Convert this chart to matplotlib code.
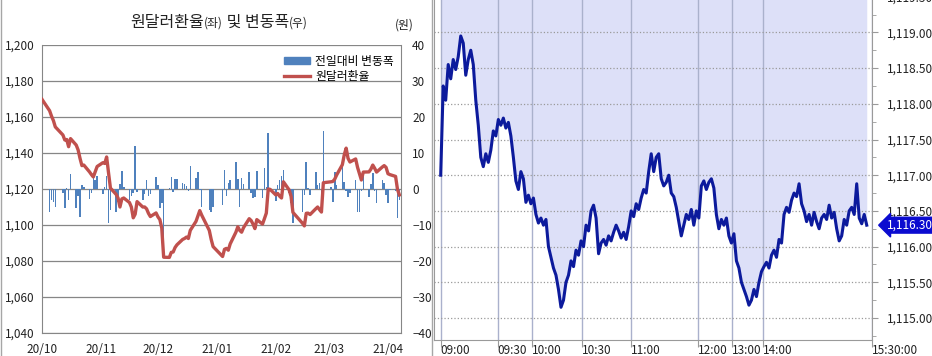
import numpy as np
import pandas as pd
import matplotlib
matplotlib.use("Agg")
import matplotlib.pyplot as plt
import matplotlib.dates as mdates
import matplotlib.transforms as mtransforms
from matplotlib.ticker import FuncFormatter, MultipleLocator
from matplotlib.patches import Patch
from matplotlib.lines import Line2D

plt.rcParams["font.family"] = ["Noto Sans CJK KR", "DejaVu Sans"]

# ---- left chart data: daily KRW/USD close and change from previous day ----
holidays = ["2020-10-02", "2020-10-09", "2020-12-25", "2020-12-31",
            "2021-01-01", "2021-02-11", "2021-02-12", "2021-03-01"]
dates = pd.bdate_range("2020-10-01", "2021-04-07").drop(pd.to_datetime(holidays))

rate_oct = [1169.8, 1163.5, 1160.5, 1158.0, 1154.5, 1150.0, 1147.2, 1147.5, 1143.5, 1148.0,
            1144.4, 1141.7, 1137.0, 1133.0, 1133.3, 1129.5, 1128.0, 1126.7, 1129.6, 1132.5]
rate_nov = [1134.6, 1134.2, 1137.8, 1129.0, 1120.5, 1117.0, 1115.0, 1110.0, 1114.5, 1115.0,
            1112.5, 1110.0, 1104.0, 1106.0, 1113.0, 1110.0, 1110.0, 1109.0, 1106.5, 1104.7, 1106.7]
rate_dec = [1104.5, 1103.0, 1098.3, 1082.1, 1082.0, 1084.8, 1085.0, 1087.5, 1089.0, 1092.0,
            1092.5, 1093.3, 1092.5, 1097.0, 1102.0, 1105.0, 1108.0, 1105.5, 1097.0, 1092.0, 1088.0]
rate_jan = [1082.5, 1086.5, 1087.0, 1086.0, 1089.5, 1096.0, 1099.0, 1097.0, 1096.0, 1098.5,
            1103.5, 1102.5, 1100.5, 1098.0, 1103.0, 1100.5, 1103.5, 1106.6, 1120.0, 1119.8]
rate_feb = [1116.7, 1117.5, 1116.0, 1115.0, 1124.0, 1119.5, 1116.0, 1107.0, 1101.0, 1099.5,
            1106.5, 1106.6, 1105.8, 1109.0, 1110.0, 1108.5, 1107.2, 1123.5]
rate_mar = [1124.0, 1124.2, 1125.5, 1127.8, 1133.5, 1139.0, 1142.7, 1137.0, 1135.0, 1136.7,
            1132.0, 1128.5, 1125.0, 1129.4, 1129.5, 1131.0, 1133.3, 1131.5, 1129.4, 1132.2,
            1133.0, 1132.0]
rate_apr = [1128.5, 1128.0, 1127.0, 1119.8, 1116.7]

chg_oct = [0.0, -6.3, -3.0, -3.5, -4.9, -1.0, -5.4, 0.3, -3.0, 4.2,
           -5.4, -2.0, -7.7, 1.1, 0.5, -2.7, -1.0, 4.4, 2.5, 3.6]
chg_nov = [-1.4, 0.5, 3.6, -9.5, -5.8, -6.3, -3.5, 1.4, 5.0, 0.5,
           -3.0, -2.0, -1.0, 12.0, -0.8, -3.0, -1.5, 2.5, -2.0, -1.5, 3.2]
chg_dec = [1.0, -5.4, -4.0, -13.5, 0.3, 3.4, -0.8, 2.8, 2.8, 1.6,
           1.5, 0.8, -0.5, 6.4, 3.0, 4.8, -0.4, -4.9, -5.8, -6.3, -4.9]
chg_jan = [-4.4, 5.3, -2.0, 1.8, 2.5, 7.5, 2.7, -4.9, 3.0, 1.3,
           4.8, -1.2, -2.6, -2.2, 5.0, -2.6, 5.7, 0.5, 15.5, 0.3]
chg_feb = [-3.3, 1.1, 2.5, 3.7, 5.3, -1.2, -4.0, -9.5, -6.3, -1.7,
           7.6, 0.2, -1.7, 4.8, 1.0, 1.8, -1.3, 16.0]
chg_mar = [0.5, -3.5, 4.8, 1.1, 6.2, 2.0, -0.5, -2.1, -1.0, 2.5,
           -6.3, -6.3, -0.5, 4.4, -2.1, 1.4, 4.4, -0.5, -4.0, 2.5, 1.6, -1.7]
chg_apr = [-4.0, -0.3, -0.5, -8.1, -3.0]

rate = rate_oct + rate_nov + rate_dec + rate_jan + rate_feb + rate_mar + rate_apr
change = chg_oct + chg_nov + chg_dec + chg_jan + chg_feb + chg_mar + chg_apr

month_ticks = pd.date_range("2020-10-01", "2021-04-01", freq="MS")

# ---- right chart data: intraday ticks (09:00 ~ 15:30) ----
intraday = [
    1117.00, 1118.25, 1118.05, 1118.55, 1118.35, 1118.62, 1118.48, 1118.66, 1118.95, 1118.85,
    1118.40, 1118.62, 1118.75, 1118.55, 1118.05, 1117.70, 1117.25, 1117.12, 1117.30, 1117.18,
    1117.35, 1117.62, 1117.55, 1117.78, 1117.70, 1117.80, 1117.66, 1117.74, 1117.55, 1117.25,
    1116.92, 1116.80, 1117.05, 1116.95, 1116.62, 1116.72, 1116.60, 1116.68, 1116.45, 1116.33,
    1116.40, 1116.30, 1116.38, 1116.00, 1115.85, 1115.70, 1115.60, 1115.40, 1115.15, 1115.25,
    1115.50, 1115.60, 1115.80, 1115.72, 1115.95, 1115.88, 1116.08, 1116.00, 1116.30, 1116.22,
    1116.50, 1116.58, 1116.40, 1115.90, 1116.05, 1116.10, 1116.02, 1116.15, 1116.08, 1116.20,
    1116.30, 1116.22, 1116.12, 1116.20, 1116.10, 1116.28, 1116.50, 1116.42, 1116.60, 1116.52,
    1116.68, 1116.80, 1116.75, 1117.05, 1117.30, 1117.05, 1117.25, 1117.30, 1116.95, 1116.85,
    1116.90, 1117.00, 1116.75, 1116.70, 1116.55, 1116.35, 1116.15, 1116.30, 1116.45, 1116.38,
    1116.52, 1116.30, 1116.50, 1116.40, 1116.85, 1116.92, 1116.80, 1116.90, 1116.95, 1116.82,
    1116.45, 1116.25, 1116.38, 1116.30, 1116.40, 1116.15, 1116.05, 1116.18, 1115.80, 1115.70,
    1115.50, 1115.40, 1115.30, 1115.18, 1115.25, 1115.40, 1115.30, 1115.50, 1115.65, 1115.72,
    1115.78, 1115.70, 1115.88, 1115.95, 1115.85, 1116.10, 1116.05, 1116.45, 1116.55, 1116.48,
    1116.65, 1116.75, 1116.70, 1116.88, 1116.60, 1116.50, 1116.35, 1116.45, 1116.30, 1116.48,
    1116.35, 1116.25, 1116.40, 1116.45, 1116.38, 1116.58, 1116.40, 1116.48, 1116.25, 1116.08,
    1116.15, 1116.38, 1116.30, 1116.50, 1116.55, 1116.45, 1116.88, 1116.40, 1116.32, 1116.45,
    1116.30,
]
time_labels = ["09:00", "09:30", "10:00", "10:30", "11:00", "12:00", "13:00", "14:00", "15:30:00"]
time_pos = [0, 22.7, 36.4, 56.3, 75.8, 102.7, 116.1, 128.6, 172.1]

W, H = 932, 356
fig = plt.figure(figsize=(W / 100, H / 100), dpi=100)


def fx(px):
    return px / W


def fy(py):
    return 1 - py / H


grey = "#868686"

# ================= left chart =================
ax = fig.add_axes([fx(42), fy(333), fx(359), 288 / H])
axb = ax.twinx()
ax.set_zorder(axb.get_zorder() + 1)
ax.patch.set_visible(False)

axb.bar(dates, change, width=0.8, color="#4f81bd", zorder=2)
axb.set_ylim(-40, 40)
axb.set_yticks(range(-40, 41, 10))
axb.set_axisbelow(True)
axb.grid(axis="y", color=grey, lw=0.9)
axb.tick_params(axis="y", length=0, pad=8, labelsize=8.5, colors="#222222")
for s in axb.spines.values():
    s.set_visible(False)

ax.plot(dates, rate, color="#c0504d", lw=2.4, solid_joinstyle="round", zorder=3)
ax.set_ylim(1040, 1200)
ax.set_yticks(range(1040, 1201, 20))
ax.yaxis.set_major_formatter(FuncFormatter(lambda v, p: f"{v:,.0f}"))
ax.set_xlim(pd.Timestamp("2020-10-01"), pd.Timestamp("2020-10-01") + pd.Timedelta(days=188.85))
ax.set_xticks(month_ticks)
ax.xaxis.set_major_formatter(mdates.DateFormatter("%y/%m"))
ax.tick_params(axis="y", length=0, pad=5, labelsize=8.5, colors="#222222")
ax.tick_params(axis="x", length=0, pad=7, labelsize=8.5, colors="#222222")
for side in ["left", "right", "bottom"]:
    ax.spines[side].set_color(grey)
ax.spines["top"].set_visible(False)

handles = [Patch(color="#4f81bd"), Line2D([], [], color="#c0504d", lw=2.4)]
ax.legend(handles, ["전일대비 변동폭", "원달러환율"], loc="upper right",
          bbox_to_anchor=(1.0, 0.99), frameon=False, fontsize=8.5,
          handlelength=2.2, handleheight=0.5, labelspacing=0.15,
          handletextpad=0.4, borderaxespad=0.2)

# title made of big and small pieces
renderer = fig.canvas.get_renderer()
xpos = fx(130)
for txt, size in [("원달러환율", 11.5), ("(좌)", 8.5), (" 및 변동폭", 11.5), ("(우)", 8.5)]:
    t = fig.text(xpos, fy(27), txt, fontsize=size, va="baseline", ha="left", color="#222222")
    xpos = t.get_window_extent(renderer).x1 / W
fig.text(fx(395), fy(29), "(원)", fontsize=8.5, va="baseline", ha="left", color="#222222")

# panel border lines
for px in [0.5, 431.5]:
    fig.add_artist(Line2D([fx(px), fx(px)], [0, 1], transform=fig.transFigure,
                          color="#a6a6a6", lw=1))

# ================= right chart =================
ybot = 1115 - 22 / 71.4
ytop = 1115 + 328 / 71.4
axr = fig.add_axes([fx(434), fy(340), fx(438), 350 / H])
xs = np.arange(len(intraday))
axr.fill_between(xs, intraday, ytop, color="#dde0f8", lw=0, zorder=0.8)
axr.plot(xs, intraday, color="#0c1a9c", lw=2.2, zorder=3)
axr.set_xlim(-2.67, 172.1)
axr.set_ylim(ybot, ytop)
axr.set_xticks(time_pos)
axr.set_xticklabels(time_labels, ha="left")
axr.tick_params(axis="x", length=5, color="#9a9a9a", pad=-2, labelsize=8.5, colors="#222222")
axr.xaxis.grid(True, color="#aab1cc", lw=1, zorder=1)
axr.yaxis.set_major_locator(MultipleLocator(0.5))
axr.yaxis.set_minor_locator(MultipleLocator(0.25))
axr.yaxis.grid(True, which="major", color="#9a9a9a", lw=0.9, ls=":", zorder=1)
axr.yaxis.tick_right()
axr.yaxis.set_major_formatter(FuncFormatter(lambda v, p: f"{v:,.2f}"))
axr.tick_params(axis="y", which="major", length=4, pad=7, labelsize=8.5, colors="#222222")
axr.tick_params(axis="y", which="minor", length=3, color="#9a9a9a")
axr.tick_params(axis="y", which="major", color="#9a9a9a")
axr.set_axisbelow("line")
for side in ["left", "right", "bottom"]:
    axr.spines[side].set_color("#9a9a9a")
axr.spines["top"].set_visible(False)

tr = mtransforms.blended_transform_factory(axr.transAxes, axr.transData)
axr.text(1.0 + 15 / 438, intraday[-1], f"{intraday[-1]:,.2f}", transform=tr,
         ha="left", va="center", color="white", fontsize=8.5, clip_on=False,
         bbox=dict(boxstyle="larrow,pad=0.12", fc="#0b0bd0", ec="#0b0bd0"))

fig.savefig("out.png", dpi=100)
